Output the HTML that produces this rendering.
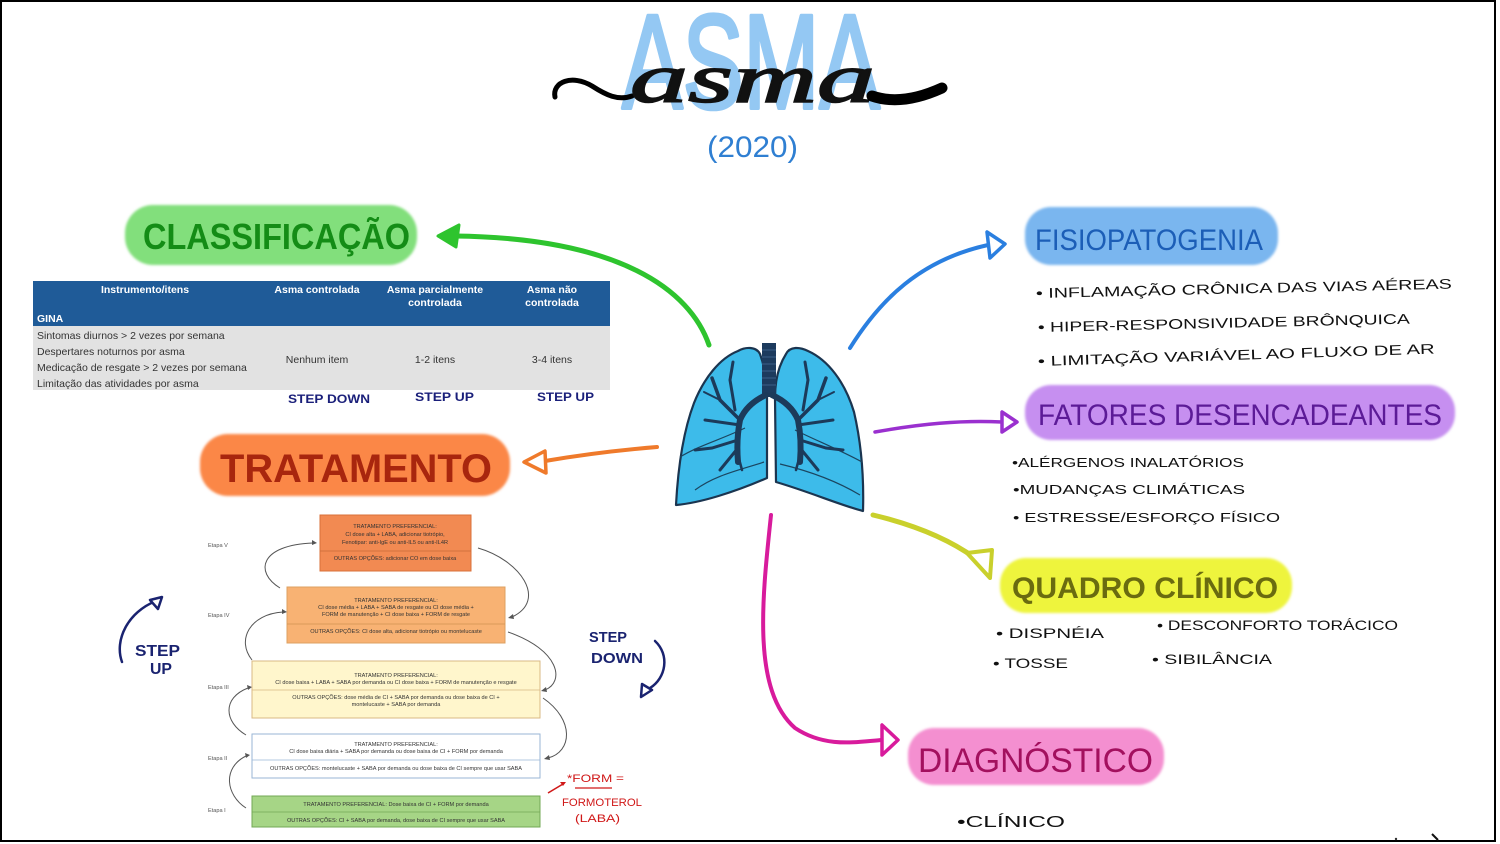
<!DOCTYPE html>
<html><head><meta charset="utf-8"><style>
html,body{margin:0;padding:0;background:#fff;}
svg{display:block;}
.hw{font-family:"Liberation Sans",sans-serif;}
</style></head><body>
<svg width="1500" height="844" viewBox="0 0 1500 844" xmlns="http://www.w3.org/2000/svg">
<defs>
<filter id="soft" x="-5%" y="-10%" width="110%" height="120%"><feGaussianBlur stdDeviation="1.2"/></filter>
</defs>
<rect width="1500" height="844" fill="#fff"/>
<rect x="1" y="1" width="1494" height="840" fill="none" stroke="#000" stroke-width="2"/>

<!-- Title -->
<text x="622" y="108" font-family="Liberation Sans" font-size="134" fill="#94c8f3" stroke="#94c8f3" stroke-width="4" stroke-linejoin="round" textLength="258" lengthAdjust="spacingAndGlyphs">ASMA</text>
<path d="M555,97 C552,82 572,74 592,86 C606,95 618,101 632,96" fill="none" stroke="#000" stroke-width="5" stroke-linecap="round"/>
<text x="630" y="102" font-family="Liberation Serif" font-style="italic" font-size="70" fill="#111" stroke="#111" stroke-width="1.5" textLength="245" lengthAdjust="spacingAndGlyphs">asma</text>
<path d="M872,96 C895,104 920,98 942,88" fill="none" stroke="#000" stroke-width="11" stroke-linecap="round"/>
<text x="707" y="157" class="hw" font-size="30" fill="#2f7fd2" textLength="91" lengthAdjust="spacingAndGlyphs">(2020)</text>

<!-- CLASSIFICACAO -->
<rect x="125" y="205" width="292" height="60" rx="28" fill="#82df7b" filter="url(#soft)"/>
<text x="143" y="249" class="hw" font-weight="bold" font-size="36" fill="#148c16" textLength="267" lengthAdjust="spacingAndGlyphs">CLASSIFICAÇÃO</text>
<path d="M709,345 C690,290 620,238 455,236" fill="none" stroke="#2ec42e" stroke-width="5" stroke-linecap="round"/>
<path d="M438,236 L459,225 L456,247 Z" fill="#2ec42e" stroke="#2ec42e" stroke-width="3" stroke-linejoin="round"/>

<!-- Table -->
<rect x="33" y="281" width="577" height="45" fill="#1f5b98"/>
<rect x="33" y="326" width="577" height="64" fill="#e2e2e2"/>
<g font-family="Liberation Sans" font-weight="bold" font-size="10.5" fill="#fff" text-anchor="middle">
<text x="145" y="293">Instrumento/itens</text>
<text x="317" y="293">Asma controlada</text>
<text x="435" y="293">Asma parcialmente</text>
<text x="435" y="306">controlada</text>
<text x="552" y="293">Asma não</text>
<text x="552" y="306">controlada</text>
</g>
<text x="37" y="322" font-family="Liberation Sans" font-weight="bold" font-size="10.5" fill="#fff">GINA</text>
<g font-family="Liberation Sans" font-size="10.5" fill="#333">
<text x="37" y="339">Sintomas diurnos &gt; 2 vezes por semana</text>
<text x="37" y="355">Despertares noturnos por asma</text>
<text x="37" y="371">Medicação de resgate &gt; 2 vezes por semana</text>
<text x="37" y="387">Limitação das atividades por asma</text>
<text x="317" y="363" text-anchor="middle">Nenhum item</text>
<text x="435" y="363" text-anchor="middle">1-2 itens</text>
<text x="552" y="363" text-anchor="middle">3-4 itens</text>
</g>
<g class="hw" font-weight="bold" font-size="12" fill="#1a1f7a">
<text x="288" y="403" textLength="82" lengthAdjust="spacingAndGlyphs">STEP DOWN</text>
<text x="415" y="401" textLength="59" lengthAdjust="spacingAndGlyphs">STEP UP</text>
<text x="537" y="401" textLength="57" lengthAdjust="spacingAndGlyphs">STEP UP</text>
</g>

<!-- TRATAMENTO -->
<rect x="200" y="434" width="310" height="62" rx="28" fill="#fb8747" filter="url(#soft)"/>
<text x="220" y="482" class="hw" font-weight="bold" font-size="40" fill="#a8260e" textLength="272" lengthAdjust="spacingAndGlyphs">TRATAMENTO</text>
<path d="M657,447 C620,450 580,455 545,461" fill="none" stroke="#ef7a2b" stroke-width="4" stroke-linecap="round"/>
<path d="M524,462 L545,451 L546,473 Z" fill="#fff" stroke="#ef7a2b" stroke-width="3.5" stroke-linejoin="round"/>

<!-- Treatment pyramid -->
<g font-family="Liberation Sans" font-size="5.6" fill="#333" text-anchor="middle">
<rect x="320" y="515" width="151" height="56" fill="#f28a52" stroke="#d8703a" stroke-width="1"/>
<line x1="320" y1="551" x2="471" y2="551" stroke="#c96a3a" stroke-width="0.8"/>
<text x="395" y="528">TRATAMENTO PREFERENCIAL:</text>
<text x="395" y="536">CI dose alta + LABA, adicionar tiotrópio,</text>
<text x="395" y="544">Fenotipar: anti-IgE ou anti-IL5 ou anti-IL4R</text>
<text x="395" y="560">OUTRAS OPÇÕES: adicionar CO em dose baixa</text>

<rect x="287" y="587" width="218" height="56" fill="#f8b273" stroke="#deA060" stroke-width="1"/>
<line x1="287" y1="624" x2="505" y2="624" stroke="#d09050" stroke-width="0.8"/>
<text x="396" y="602">TRATAMENTO PREFERENCIAL:</text>
<text x="396" y="609">CI dose média + LABA + SABA de resgate ou CI dose média +</text>
<text x="396" y="616">FORM de manutenção + CI dose baixa + FORM de resgate</text>
<text x="396" y="633">OUTRAS OPÇÕES: CI dose alta, adicionar tiotrópio ou montelucaste</text>

<rect x="252" y="661" width="288" height="57" fill="#fff6cc" stroke="#d9b985" stroke-width="1"/>
<line x1="252" y1="690" x2="540" y2="690" stroke="#d9b985" stroke-width="0.8"/>
<text x="396" y="677">TRATAMENTO PREFERENCIAL:</text>
<text x="396" y="684">CI dose baixa + LABA + SABA por demanda ou CI dose baixa + FORM de manutenção e resgate</text>
<text x="396" y="699">OUTRAS OPÇÕES: dose média de CI + SABA por demanda ou dose baixa de CI +</text>
<text x="396" y="706">montelucaste + SABA por demanda</text>

<rect x="252" y="734" width="288" height="44" fill="#fff" stroke="#9ab6d6" stroke-width="1"/>
<line x1="252" y1="760" x2="540" y2="760" stroke="#9ab6d6" stroke-width="0.8"/>
<text x="396" y="746">TRATAMENTO PREFERENCIAL:</text>
<text x="396" y="753">CI dose baixa diária + SABA por demanda ou dose baixa de CI + FORM por demanda</text>
<text x="396" y="770">OUTRAS OPÇÕES: montelucaste + SABA por demanda ou dose baixa de CI sempre que usar SABA</text>

<rect x="252" y="796" width="288" height="31" fill="#a6d586" stroke="#73a855" stroke-width="1"/>
<line x1="252" y1="812" x2="540" y2="812" stroke="#73a855" stroke-width="0.8"/>
<text x="396" y="806">TRATAMENTO PREFERENCIAL: Dose baixa de CI + FORM por demanda</text>
<text x="396" y="822">OUTRAS OPÇÕES: CI + SABA por demanda, dose baixa de CI sempre que usar SABA</text>
</g>
<g font-family="Liberation Sans" font-size="5.6" fill="#555">
<text x="208" y="547">Etapa V</text>
<text x="208" y="617">Etapa IV</text>
<text x="208" y="689">Etapa III</text>
<text x="208" y="760">Etapa II</text>
<text x="208" y="812">Etapa I</text>
</g>
<g fill="none" stroke="#555" stroke-width="1">
<path d="M246,808 C226,795 222,768 246,756"/>
<path d="M246,735 C224,722 222,698 248,688"/>
<path d="M252,660 C236,640 250,614 283,612"/>
<path d="M280,588 C254,572 260,545 313,543"/>
<path d="M478,548 C520,560 548,600 512,617"/>
<path d="M508,632 C560,650 565,682 545,690"/>
<path d="M543,698 C575,720 572,752 548,758"/>
</g>
<g fill="#555">
<path d="M250,755 l-5,-2 l1,5 z"/>
<path d="M252,687 l-5,-2 l1,5 z"/>
<path d="M287,612 l-5,-3 l0,5 z"/>
<path d="M317,543 l-5,-3 l0,5 z"/>
<path d="M508,618 l5,-4 l1,5 z"/>
<path d="M541,691 l5,-4 l1,5 z"/>
<path d="M544,759 l5,-4 l1,5 z"/>
</g>

<!-- STEP UP / STEP DOWN handwriting -->
<path d="M122,662 C114,640 128,612 156,601" fill="none" stroke="#1a2370" stroke-width="2.5" stroke-linecap="round"/>
<path d="M162,597 L150,600 L158,609 Z" fill="#fff" stroke="#1a2370" stroke-width="2.5" stroke-linejoin="round"/>
<g class="hw" font-weight="bold" fill="#1a2370">
<text x="135" y="656" font-size="16" textLength="45" lengthAdjust="spacingAndGlyphs">STEP</text>
<text x="150" y="674" font-size="16" textLength="22" lengthAdjust="spacingAndGlyphs">UP</text>
<text x="589" y="642" font-size="15" textLength="38" lengthAdjust="spacingAndGlyphs">STEP</text>
<text x="591" y="663" font-size="15" textLength="52" lengthAdjust="spacingAndGlyphs">DOWN</text>
</g>
<path d="M655,641 C670,655 666,678 650,688" fill="none" stroke="#1a2370" stroke-width="2.5" stroke-linecap="round"/>
<path d="M641,697 L642,684 L652,690 Z" fill="#fff" stroke="#1a2370" stroke-width="2.5" stroke-linejoin="round"/>

<!-- FORM note -->
<path d="M548,793 L563,784" stroke="#d01818" stroke-width="1.6" fill="none"/>
<path d="M566,782 l-6,0 l3,4 z" fill="#d01818"/>
<g class="hw" fill="#d01818" font-size="11">
<text x="567" y="782" textLength="57" lengthAdjust="spacingAndGlyphs">*FORM =</text>
<text x="562" y="806" textLength="80" lengthAdjust="spacingAndGlyphs">FORMOTEROL</text>
<text x="575" y="822" textLength="45" lengthAdjust="spacingAndGlyphs">(LABA)</text>
</g>
<line x1="575" y1="788" x2="612" y2="788" stroke="#d01818" stroke-width="1.2"/>

<!-- Lungs -->
<g stroke="#1b3550" stroke-width="2.2" stroke-linejoin="round">
<path d="M760,354 C756,346 745,347 738,351 C720,358 704,378 694,403 C683,432 678,468 676,505 C700,503 735,492 767,478 L767,398 C767,380 764,365 760,354 Z" fill="#3dbbea"/>
<path d="M786,354 C790,346 800,347 808,351 C828,360 845,382 854,412 C861,442 864,477 863,511 C840,505 810,492 776,482 L775,398 C775,380 779,365 786,354 Z" fill="#3dbbea"/>
</g>
<g fill="none" stroke="#1b4560" stroke-width="1.2">
<path d="M680,457 C700,445 720,440 745,428"/>
<path d="M695,490 C715,475 740,470 764,462"/>
<path d="M862,462 C840,450 815,440 795,430"/>
<path d="M860,495 C835,480 805,470 780,464"/>
</g>
<rect x="762" y="343" width="14" height="54" fill="#1d3b5e"/>
<g stroke="#3a5f88" stroke-width="1"><line x1="762" y1="350" x2="776" y2="350"/><line x1="762" y1="357" x2="776" y2="357"/><line x1="762" y1="364" x2="776" y2="364"/><line x1="762" y1="371" x2="776" y2="371"/><line x1="762" y1="378" x2="776" y2="378"/><line x1="762" y1="385" x2="776" y2="385"/></g>
<g fill="none" stroke="#1c3a5a" stroke-linecap="round">
<path d="M766,395 C755,400 745,408 740,420 C737,435 737,450 738,462" stroke-width="6"/>
<path d="M740,420 L720,400 L712,378" stroke-width="3.5"/>
<path d="M735,410 L730,380 L733,362" stroke-width="3"/>
<path d="M740,425 L705,420" stroke-width="3"/>
<path d="M738,440 L712,448 L695,450" stroke-width="3"/>
<path d="M738,448 L720,470" stroke-width="3"/>
<path d="M738,455 L742,470" stroke-width="2.5"/>
<path d="M720,400 L704,392" stroke-width="2"/>
<path d="M772,395 C783,400 793,408 798,420 C801,435 801,450 800,462" stroke-width="6"/>
<path d="M798,420 L818,400 L826,378" stroke-width="3.5"/>
<path d="M803,410 L808,380 L805,362" stroke-width="3"/>
<path d="M798,425 L833,420" stroke-width="3"/>
<path d="M800,440 L826,448 L843,450" stroke-width="3"/>
<path d="M800,448 L818,470" stroke-width="3"/>
<path d="M800,455 L796,470" stroke-width="2.5"/>
<path d="M818,400 L834,392" stroke-width="2"/>
</g>

<!-- Blue arrow -> FISIOPATOGENIA -->
<path d="M850,348 C880,300 920,260 988,245" fill="none" stroke="#2a7fe0" stroke-width="4" stroke-linecap="round"/>
<path d="M1005,244 L987,232 L990,258 Z" fill="#fff" stroke="#2a7fe0" stroke-width="3.5" stroke-linejoin="round"/>
<rect x="1025" y="207" width="253" height="58" rx="26" fill="#7ab6ef" filter="url(#soft)"/>
<text x="1035" y="250" class="hw" font-size="30" fill="#1c5eb7" textLength="228" lengthAdjust="spacingAndGlyphs">FISIOPATOGENIA</text>
<g class="hw" font-size="14" fill="#111">
<text x="1036" y="298" textLength="416" lengthAdjust="spacingAndGlyphs" transform="rotate(-1.3 1036 298)">• INFLAMAÇÃO CRÔNICA DAS VIAS AÉREAS</text>
<text x="1038" y="332" textLength="372" lengthAdjust="spacingAndGlyphs" transform="rotate(-1.3 1038 332)">• HIPER-RESPONSIVIDADE BRÔNQUICA</text>
<text x="1038" y="366" textLength="397" lengthAdjust="spacingAndGlyphs" transform="rotate(-1.8 1038 366)">• LIMITAÇÃO VARIÁVEL AO FLUXO DE AR</text>
</g>

<!-- Purple arrow -> FATORES -->
<path d="M875,432 C920,424 960,420 1002,422" fill="none" stroke="#9a30cf" stroke-width="3.5" stroke-linecap="round"/>
<path d="M1017,422 L1002,412 L1002,432 Z" fill="#fff" stroke="#9a30cf" stroke-width="3.5" stroke-linejoin="round"/>
<rect x="1025" y="385" width="430" height="55" rx="26" fill="#c68ff0" filter="url(#soft)"/>
<text x="1038" y="425" class="hw" font-size="30" fill="#5c1b97" textLength="404" lengthAdjust="spacingAndGlyphs">FATORES DESENCADEANTES</text>
<g class="hw" font-size="13" fill="#111">
<text x="1012" y="467" textLength="232" lengthAdjust="spacingAndGlyphs">•ALÉRGENOS  INALATÓRIOS</text>
<text x="1013" y="494" textLength="232" lengthAdjust="spacingAndGlyphs">•MUDANÇAS CLIMÁTICAS</text>
<text x="1013" y="522" textLength="267" lengthAdjust="spacingAndGlyphs">• ESTRESSE/ESFORÇO FÍSICO</text>
</g>

<!-- Yellow arrow -> QUADRO CLINICO -->
<path d="M873,515 C915,525 950,540 975,558" fill="none" stroke="#c9d02c" stroke-width="5" stroke-linecap="round"/>
<path d="M990,578 L967,553 L992,550 Z" fill="#fff" stroke="#c9d02c" stroke-width="4" stroke-linejoin="round"/>
<rect x="1000" y="558" width="292" height="55" rx="26" fill="#eef43c" filter="url(#soft)"/>
<text x="1012" y="598" class="hw" font-size="30" font-weight="bold" fill="#6a6b10" textLength="266" lengthAdjust="spacingAndGlyphs">QUADRO CLÍNICO</text>
<g class="hw" font-size="14" fill="#111">
<text x="996" y="638" textLength="108" lengthAdjust="spacingAndGlyphs">• DISPNÉIA</text>
<text x="1157" y="630" textLength="241" lengthAdjust="spacingAndGlyphs">• DESCONFORTO  TORÁCICO</text>
<text x="993" y="668" textLength="75" lengthAdjust="spacingAndGlyphs">• TOSSE</text>
<text x="1152" y="664" textLength="120" lengthAdjust="spacingAndGlyphs">• SIBILÂNCIA</text>
</g>

<!-- Magenta arrow -> DIAGNOSTICO -->
<path d="M771,515 C762,600 752,690 795,728 C825,748 855,742 882,740" fill="none" stroke="#d81b9c" stroke-width="4" stroke-linecap="round"/>
<path d="M898,740 L882,725 L882,755 Z" fill="#fff" stroke="#d81b9c" stroke-width="3.5" stroke-linejoin="round"/>
<rect x="908" y="728" width="256" height="57" rx="26" fill="#f48fd0" filter="url(#soft)"/>
<text x="918" y="772" class="hw" font-size="34" fill="#a3105e" textLength="235" lengthAdjust="spacingAndGlyphs">DIAGNÓSTICO</text>
<text x="957" y="827" class="hw" font-size="16" fill="#111" textLength="108" lengthAdjust="spacingAndGlyphs">•CLÍNICO</text>

<path d="M1432,834 L1438,840" stroke="#111" stroke-width="2"/>
<circle cx="1396" cy="839" r="1.2" fill="#333"/>
</svg>
</body></html>
